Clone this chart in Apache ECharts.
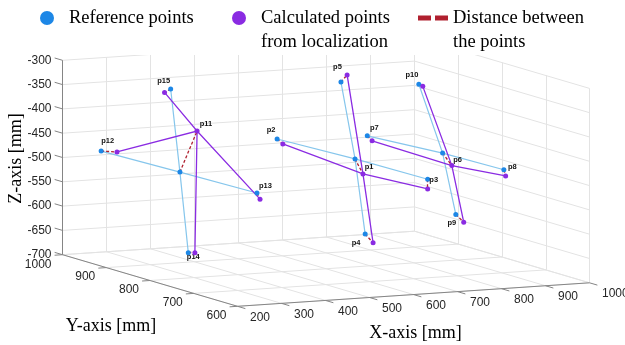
<!DOCTYPE html>
<html>
<head>
<meta charset="utf-8">
<script src="https://cdn.jsdelivr.net/npm/echarts@6/dist/echarts.min.js"></script>
<style>
html, body { margin: 0; padding: 0; background: #fff; }
#chart { width: 625px; height: 345px; }
</style>
</head>
<body>
<div id="chart"></div>
<script>
// points p1..p15, reference and calculated (mm)
var pointNames = ['p1','p2','p3','p4','p5','p6','p7','p8','p9','p10','p11','p12','p13','p14','p15'];
var refX  = [666, 647, 673, 689, 634,  865, 834, 874, 895, 811,  268, 254, 279, 287, 247];
var refY  = [800, 959, 641, 800, 800,  800, 941, 669, 800, 800,  800, 966, 635, 800, 800];
var refZ  = [-478,-478,-478,-634,-318, -478,-478,-478,-606,-333, -481,-481,-481,-648,-309];
var calcX = [684, 660, 673, 707, 648,  886, 845, 878, 913, 820,  307, 290, 286, 302, 233];
var calcY = [800, 959, 641, 800, 800,  800, 941, 669, 800, 800,  800, 966, 635, 800, 800];
var calcZ = [-510,-489,-498,-653,-304, -505,-489,-491,-623,-338, -399,-485,-494,-649,-315];
// arms of the three crosses (point indices)
var crossLines = [[1,0,2],[4,0,3],[6,5,7],[9,5,8],[11,10,12],[14,10,13]];

var xTicks = [200, 300, 400, 500, 600, 700, 800, 900, 1000];
var yTicks = [600, 700, 800, 900, 1000];
var zTicks = [-700, -650, -600, -550, -500, -450, -400, -350, -300];
var xLim = [200, 1000], yLim = [600, 1000], zLim = [-700, -300];

// label offsets (px) from the reference point
var labelOffsets = [[14,8],[-6,-9],[6,1],[-9,9],[-3.5,-15],[15,7],[7,-8],[8.5,-3],[-4,9],[-7,-9],[26,-48],[6.5,-10],[8.5,-7],[5,4.5],[-7,-8]];

// orthographic view: screen position of corner (xmin,ymin,zmin) and of each axis span
var view = { o: [237.5, 306.3], ex: [352, -23.5], ey: [-175, -51.6], ez: [0, -194.4] };
function proj(x, y, z) {
    var a = (x - xLim[0]) / (xLim[1] - xLim[0]);
    var b = (y - yLim[0]) / (yLim[1] - yLim[0]);
    var c = (z - zLim[0]) / (zLim[1] - zLim[0]);
    return [view.o[0] + a * view.ex[0] + b * view.ey[0] + c * view.ez[0],
            view.o[1] + a * view.ex[1] + b * view.ey[1] + c * view.ez[1]];
}
function seg(p, q) { return { coords: [proj(p[0], p[1], p[2]), proj(q[0], q[1], q[2])] }; }

// box grid: floor, back wall (y = max), right wall (x = max)
var gridSegs = [];
xTicks.forEach(function (x) {
    gridSegs.push(seg([x, yLim[0], zLim[0]], [x, yLim[1], zLim[0]]));
    gridSegs.push(seg([x, yLim[1], zLim[0]], [x, yLim[1], zLim[1]]));
});
yTicks.forEach(function (y) {
    gridSegs.push(seg([xLim[0], y, zLim[0]], [xLim[1], y, zLim[0]]));
    gridSegs.push(seg([xLim[1], y, zLim[0]], [xLim[1], y, zLim[1]]));
});
zTicks.forEach(function (z) {
    gridSegs.push(seg([xLim[0], yLim[1], z], [xLim[1], yLim[1], z]));
    gridSegs.push(seg([xLim[1], yLim[0], z], [xLim[1], yLim[1], z]));
});

var axisSegs = [
    seg([xLim[0], yLim[0], zLim[0]], [xLim[1], yLim[0], zLim[0]]),
    seg([xLim[0], yLim[0], zLim[0]], [xLim[0], yLim[1], zLim[0]]),
    seg([xLim[0], yLim[1], zLim[0]], [xLim[0], yLim[1], zLim[1]])
];
var tickLen = 18;
xTicks.forEach(function (x) { axisSegs.push(seg([x, yLim[0], zLim[0]], [x, yLim[0] - tickLen, zLim[0]])); });
yTicks.forEach(function (y) { axisSegs.push(seg([xLim[0], y, zLim[0]], [xLim[0] - tickLen, y, zLim[0]])); });
zTicks.forEach(function (z) { axisSegs.push(seg([xLim[0], yLim[1], z], [xLim[0], yLim[1] + tickLen, z])); });

// tick labels and axis titles
var texts = [];
zTicks.forEach(function (z) { texts.push({ p: proj(xLim[0], yLim[1], z), t: String(z), dx: -11, dy: 0, align: 'right' }); });
yTicks.forEach(function (y) { texts.push({ p: proj(xLim[0], y, zLim[0]), t: String(y), dx: -11, dy: 9.5, align: 'right' }); });
xTicks.forEach(function (x) { texts.push({ p: proj(x, yLim[0], zLim[0]), t: String(x), dx: 12.5, dy: 11, align: 'left' }); });
texts.push({ p: proj(xLim[0], yLim[1], -500), t: 'Z-axis [mm]', dx: -46, dy: 1, align: 'center', title: true, rot: Math.PI / 2 });
texts.push({ p: proj(xLim[0], 800, zLim[0]), t: 'Y-axis [mm]', dx: -39, dy: 45.5, align: 'center', title: true });
texts.push({ p: proj(600, yLim[0], zLim[0]), t: 'X-axis [mm]', dx: 2, dy: 38.5, align: 'center', title: true });

function polylines(X, Y, Z) {
    return crossLines.map(function (ids) {
        return { coords: ids.map(function (i) { return proj(X[i], Y[i], Z[i]); }) };
    });
}
var distSegs = refX.map(function (x, i) {
    return seg([refX[i], refY[i], refZ[i]], [calcX[i], calcY[i], calcZ[i]]);
});

var blue = '#1d87e6', purple = '#8a2be2', darkRed = '#b0202f';
var legendText = { fontFamily: 'Liberation Serif', fontSize: 18.5, color: '#000', lineHeight: 24 };
// two-line legend entries: icon sits on the first text line (box padded below)
var circleTop = 'path://M7 0A7 7 0 1 1 7 14A7 7 0 1 1 7 0Z M7 38';
var dashTop = 'path://M14 0 M0 5.5H11V8.5H0Z M17 5.5H28V8.5H17Z M14 38';

var myChart = echarts.init(document.getElementById('chart'));
var option = {
    animation: false,
    grid: { left: 0, top: 0, width: 625, height: 345 },
    xAxis: { type: 'value', min: 0, max: 625, show: false },
    yAxis: { type: 'value', min: 0, max: 345, inverse: true, show: false },
    legend: [
        { left: 40, top: 6, padding: 0, itemWidth: 34, itemHeight: 14, selectedMode: false,
          data: [{ name: 'Reference points', icon: 'circle' }], textStyle: legendText },
        { left: 232, top: 6, padding: 0, itemWidth: 34, itemHeight: 38, selectedMode: false,
          data: [{ name: 'Calculated points\nfrom localization', icon: circleTop }], textStyle: legendText },
        { left: 418, top: 6, padding: 0, itemWidth: 30, itemHeight: 38, selectedMode: false,
          data: [{ name: 'Distance between\nthe points', icon: dashTop, itemStyle: { color: darkRed } }],
          textStyle: legendText }
    ],
    graphic: [
        { type: 'rect', shape: { x: 58, y: 0, width: 545, height: 55 }, style: { fill: '#fff' }, z: 3, silent: true }
    ],
    series: [
        { type: 'lines', coordinateSystem: 'cartesian2d', z: 1, silent: true,
          lineStyle: { color: '#e3e3e3', width: 1, opacity: 1 }, data: gridSegs },
        { type: 'lines', coordinateSystem: 'cartesian2d', z: 1.1, silent: true,
          lineStyle: { color: '#858585', width: 1, opacity: 1 }, data: axisSegs },
        { type: 'custom', coordinateSystem: 'cartesian2d', z: 1.2, silent: true,
          data: texts.map(function (d) { return d.p; }),
          renderItem: function (params, api) {
              var d = texts[params.dataIndex];
              var c = api.coord([api.value(0), api.value(1)]);
              return { type: 'text', x: c[0] + d.dx, y: c[1] + d.dy, rotation: d.rot || 0,
                  style: { text: d.t, align: d.align, verticalAlign: 'middle',
                      fill: d.title ? '#000' : '#262626',
                      fontFamily: d.title ? 'Liberation Serif' : 'Liberation Sans',
                      fontSize: d.title ? 18 : 12 } };
          } },
        { name: 'Reference lines', type: 'lines', coordinateSystem: 'cartesian2d', polyline: true, z: 1.3, silent: true,
          lineStyle: { color: '#86c6ec', width: 1.2, opacity: 1 }, data: polylines(refX, refY, refZ) },
        { name: 'Calculated lines', type: 'lines', coordinateSystem: 'cartesian2d', polyline: true, z: 1.4, silent: true,
          lineStyle: { color: purple, width: 1.3, opacity: 1 }, data: polylines(calcX, calcY, calcZ) },
        { name: 'Distance between\nthe points', type: 'lines', coordinateSystem: 'cartesian2d', z: 1.5, silent: true,
          lineStyle: { color: darkRed, width: 1.3, type: [3, 2], opacity: 1 }, data: distSegs },
        { name: 'Reference points', type: 'scatter', z: 1.6, symbolSize: 5,
          itemStyle: { color: blue, opacity: 1 },
          label: { show: true, position: 'inside', formatter: '{b}', color: '#111',
                   fontFamily: 'Liberation Sans', fontWeight: 'bold', fontSize: 7.5 },
          data: refX.map(function (x, i) {
              return { name: pointNames[i], value: proj(refX[i], refY[i], refZ[i]), label: { offset: labelOffsets[i] } };
          }) },
        { name: 'Calculated points\nfrom localization', type: 'scatter', z: 1.7, symbolSize: 5,
          itemStyle: { color: purple, opacity: 1 },
          data: calcX.map(function (x, i) { return proj(calcX[i], calcY[i], calcZ[i]); }) }
    ]
};
myChart.setOption(option);
</script>
</body>
</html>
